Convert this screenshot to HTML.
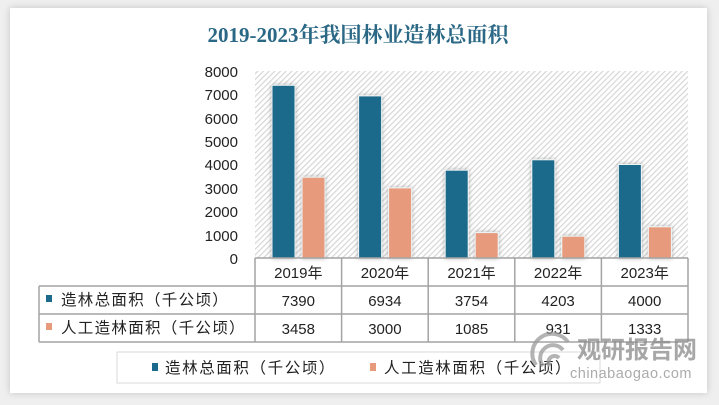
<!DOCTYPE html>
<html><head><meta charset="utf-8">
<style>
html,body{margin:0;padding:0;}
body{width:719px;height:405px;background:#efefef;position:relative;overflow:hidden;font-family:"Liberation Sans","Noto Sans CJK SC",sans-serif;}
.card{position:absolute;left:10px;top:8px;width:697px;height:385px;background:#fff;box-shadow:0 0 7px rgba(0,0,0,0.18);}
svg{position:absolute;left:0;top:0;}
</style></head><body>
<div class="card"></div>
<svg width="719" height="405" viewBox="0 0 719 405" xmlns="http://www.w3.org/2000/svg">
<defs>
<pattern id="hatch" patternUnits="userSpaceOnUse" width="4" height="4" patternTransform="rotate(45)">
<rect width="4" height="4" fill="#ffffff"/>
<rect width="1.2" height="4" fill="#d6d6d6"/>
</pattern>
<filter id="sh" x="-30%" y="-10%" width="160%" height="120%">
<feDropShadow dx="0" dy="0" stdDeviation="2" flood-color="#000" flood-opacity="0.3"/>
</filter>
</defs>
<text x="358" y="42" text-anchor="middle" font-family="'Liberation Serif','Noto Serif CJK SC',serif" font-weight="bold" font-size="21" fill="#2a6886">2019-2023年我国林业造林总面积</text>
<rect x="255" y="71" width="433" height="187" fill="url(#hatch)"/>
<g font-size="15" fill="#222" text-anchor="end">
<text x="238" y="77">8000</text>
<text x="238" y="100">7000</text>
<text x="238" y="124">6000</text>
<text x="238" y="147">5000</text>
<text x="238" y="170">4000</text>
<text x="238" y="194">3000</text>
<text x="238" y="217">2000</text>
<text x="238" y="241">1000</text>
<text x="238" y="264">0</text>
</g>
<g filter="url(#sh)" stroke="#eef4f6" stroke-width="1">
<rect x="272" y="85.3" width="23" height="172.7" fill="#1c6a8b"/>
<rect x="302" y="177.2" width="23" height="80.8" fill="#e89b7c"/>
<rect x="358.6" y="95.9" width="23" height="162.1" fill="#1c6a8b"/>
<rect x="388.6" y="187.9" width="23" height="70.1" fill="#e89b7c"/>
<rect x="445.2" y="170.2" width="23" height="87.8" fill="#1c6a8b"/>
<rect x="475.2" y="232.6" width="23" height="25.4" fill="#e89b7c"/>
<rect x="531.8" y="159.8" width="23" height="98.2" fill="#1c6a8b"/>
<rect x="561.8" y="236.2" width="23" height="21.8" fill="#e89b7c"/>
<rect x="618.4" y="164.5" width="23" height="93.5" fill="#1c6a8b"/>
<rect x="648.4" y="226.8" width="23" height="31.2" fill="#e89b7c"/>
</g>
<g stroke="#a3a3a3" stroke-width="1.5" fill="none">
<line x1="255" y1="258" x2="688" y2="258"/>
<line x1="39" y1="286" x2="688" y2="286"/>
<line x1="39" y1="314" x2="688" y2="314"/>
<line x1="39" y1="342" x2="688" y2="342"/>
<line x1="39" y1="286" x2="39" y2="342"/>
<line x1="255" y1="258" x2="255" y2="342"/>
<line x1="341.6" y1="258" x2="341.6" y2="342"/>
<line x1="428.2" y1="258" x2="428.2" y2="342"/>
<line x1="514.8" y1="258" x2="514.8" y2="342"/>
<line x1="601.4" y1="258" x2="601.4" y2="342"/>
<line x1="688" y1="258" x2="688" y2="342"/>
</g>
<g font-size="15" fill="#222" text-anchor="middle">
<text x="298.3" y="278">2019年</text>
<text x="384.9" y="278">2020年</text>
<text x="471.5" y="278">2021年</text>
<text x="558.1" y="278">2022年</text>
<text x="644.7" y="278">2023年</text>
<text x="298.3" y="306">7390</text>
<text x="384.9" y="306">6934</text>
<text x="471.5" y="306">3754</text>
<text x="558.1" y="306">4203</text>
<text x="644.7" y="306">4000</text>
<text x="298.3" y="334">3458</text>
<text x="384.9" y="334">3000</text>
<text x="471.5" y="334">1085</text>
<text x="558.1" y="334">931</text>
<text x="644.7" y="334">1333</text>
</g>
<rect x="46" y="295" width="6" height="7" fill="#1c6a8b"/>
<rect x="46" y="323" width="6" height="7" fill="#e89b7c"/>
<g font-size="15.5" fill="#222" letter-spacing="1.3">
<text x="61" y="305">造林总面积（千公顷）</text>
<text x="61" y="333">人工造林面积（千公顷）</text>
</g>
<rect x="117" y="352" width="483" height="31" fill="#fff" stroke="#d9d9d9" stroke-width="1"/>
<rect x="152" y="363" width="6" height="8" fill="#1c6a8b"/>
<rect x="370" y="363" width="6" height="8" fill="#e89b7c"/>
<g font-size="15.5" fill="#222" letter-spacing="1.6">
<text x="165" y="373">造林总面积（千公顷）</text>
<text x="384" y="373">人工造林面积（千公顷）</text>
</g>
<g opacity="0.75">
<g fill="none" stroke="#9a9a9a" stroke-width="4">
<path d="M536 365 A18 18 0 0 1 568 342"/>
<path d="M543 366 A12 12 0 0 1 563 350"/>
<path d="M550 366 A6 6 0 0 1 559 358"/>
</g>
<text x="577" y="358" font-size="24" font-weight="bold" fill="#8a8a8a" font-family="'Liberation Sans','Noto Sans CJK SC',sans-serif">观研报告网</text>
<text x="570" y="378" font-size="14.5" fill="#8f8f8f" letter-spacing="0.5" font-family="'Liberation Sans','DejaVu Sans',sans-serif">chinabaogao.com</text>
</g>
</svg>
</body></html>
